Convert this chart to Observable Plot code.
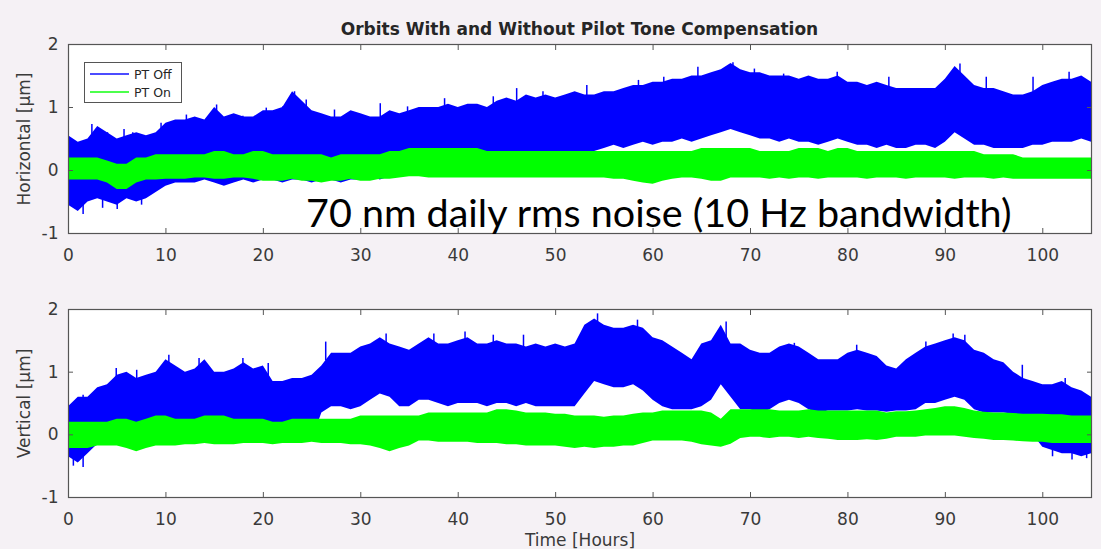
<!DOCTYPE html>
<html>
<head>
<meta charset="utf-8">
<script src="https://cdn.jsdelivr.net/npm/d3@7"></script>
<script src="https://cdn.jsdelivr.net/npm/@observablehq/plot@0.6"></script>
<style>
  html, body { margin: 0; padding: 0; background: #f5f1f5; }
  #wrap { position: relative; width: 1101px; height: 549px; overflow: hidden; font-family: "DejaVu Sans", sans-serif; }
  #title { position: absolute; left: 68px; width: 1023px; top: 19px; text-align: center; font-weight: bold; font-size: 17px; color: #262626; line-height: 20px; }
  #p1 { position: absolute; left: 0; top: 40px; }
  #p2 { position: absolute; left: 0; top: 270px; }
  #legend { position: absolute; left: 84px; top: 62px; width: 96px; height: 39px; border: 1px solid #555; background: #fff; font-size: 12.5px; color: #262626; }
  .row { position: absolute; left: 5px; height: 16px; display: flex; align-items: center; }
  .sw { width: 39px; height: 2px; margin-right: 5px; }
</style>
</head>
<body>
<div id="wrap">
  <div id="title">Orbits With and Without Pilot Tone Compensation</div>
  <div id="p1"></div>
  <div id="p2"></div>
  <div id="legend"></div>
</div>
<script>
// ---- data (hourly envelope of the noisy traces) ----
const hours = d3.range(0, 106);
const xTicks = [0, 10, 20, 30, 40, 50, 60, 70, 80, 90, 100];
const yTicks = [-1, 0, 1, 2];
const seriesNames = ["PT Off", "PT On"];
const seriesColors = ["#0000ff", "#00ff00"];
const annotation = "70 nm daily rms noise (10 Hz bandwidth)";

// Horizontal, PT Off (blue) upper / lower envelope
const hOffHi = [
  0.55,0.45,0.5,0.7,0.6,0.5,0.55,0.6,0.55,0.6,
  0.75,0.8,0.8,0.85,0.8,1.0,0.85,0.9,0.85,0.85,
  0.95,0.95,1.0,1.25,1.1,0.95,0.9,0.85,0.85,0.95,
  0.9,0.85,0.85,0.95,0.9,0.95,1.0,1.0,1.0,1.05,
  1.0,1.05,1.05,1.0,1.1,1.15,1.1,1.2,1.15,1.2,
  1.15,1.2,1.25,1.2,1.2,1.25,1.25,1.3,1.35,1.35,
  1.4,1.4,1.45,1.45,1.5,1.5,1.55,1.6,1.7,1.6,
  1.55,1.55,1.5,1.5,1.5,1.45,1.5,1.45,1.45,1.5,
  1.4,1.4,1.35,1.4,1.35,1.3,1.3,1.3,1.3,1.3,
  1.45,1.65,1.5,1.35,1.3,1.3,1.25,1.2,1.2,1.25,
  1.35,1.4,1.45,1.45,1.5,1.4];
const hOffLo = [
  -0.55,-0.65,-0.5,-0.45,-0.5,-0.55,-0.45,-0.5,-0.45,-0.35,
  -0.25,-0.2,-0.2,-0.2,-0.15,-0.2,-0.25,-0.2,-0.15,-0.2,
  -0.15,-0.15,-0.2,-0.15,-0.15,-0.2,-0.15,-0.15,-0.2,-0.15,
  -0.15,-0.1,-0.15,-0.1,-0.1,0,0,0,0,0,
  0,0,0,0,0,0,0.05,0.05,0.1,0.1,
  0.15,0.2,0.25,0.25,0.3,0.35,0.4,0.35,0.4,0.45,
  0.4,0.45,0.45,0.5,0.45,0.5,0.55,0.6,0.65,0.6,
  0.55,0.5,0.5,0.45,0.5,0.45,0.45,0.4,0.45,0.5,
  0.45,0.4,0.4,0.35,0.4,0.35,0.35,0.4,0.4,0.35,
  0.45,0.6,0.5,0.4,0.4,0.35,0.35,0.35,0.35,0.4,
  0.4,0.45,0.45,0.45,0.5,0.45];
// Horizontal, PT On (green)
const hOnHi = [
  0.2,0.2,0.2,0.2,0.15,0.1,0.1,0.2,0.2,0.25,
  0.25,0.25,0.25,0.25,0.25,0.3,0.3,0.25,0.25,0.3,
  0.3,0.25,0.25,0.25,0.25,0.25,0.25,0.2,0.25,0.25,
  0.25,0.25,0.25,0.3,0.3,0.35,0.35,0.35,0.35,0.35,
  0.35,0.35,0.35,0.3,0.3,0.3,0.3,0.3,0.3,0.3,
  0.3,0.3,0.3,0.3,0.3,0.3,0.3,0.3,0.3,0.3,
  0.3,0.3,0.3,0.3,0.3,0.35,0.35,0.35,0.35,0.35,
  0.35,0.3,0.3,0.3,0.3,0.35,0.35,0.35,0.3,0.35,
  0.35,0.3,0.3,0.3,0.3,0.3,0.3,0.3,0.3,0.3,
  0.3,0.3,0.3,0.3,0.25,0.25,0.25,0.25,0.2,0.2,
  0.2,0.2,0.2,0.2,0.2,0.2];
const hOnLo = [
  -0.15,-0.15,-0.15,-0.15,-0.2,-0.3,-0.3,-0.2,-0.15,-0.15,
  -0.14,-0.14,-0.14,-0.12,-0.12,-0.14,-0.14,-0.12,-0.12,-0.14,
  -0.17,-0.17,-0.17,-0.14,-0.17,-0.17,-0.2,-0.17,-0.17,-0.14,
  -0.17,-0.17,-0.14,-0.14,-0.12,-0.1,-0.1,-0.12,-0.12,-0.12,
  -0.12,-0.12,-0.12,-0.12,-0.12,-0.12,-0.12,-0.12,-0.12,-0.12,
  -0.12,-0.12,-0.12,-0.12,-0.12,-0.12,-0.14,-0.14,-0.17,-0.2,
  -0.22,-0.17,-0.14,-0.12,-0.12,-0.14,-0.17,-0.17,-0.12,-0.12,
  -0.12,-0.12,-0.14,-0.12,-0.14,-0.12,-0.12,-0.14,-0.12,-0.12,
  -0.12,-0.12,-0.14,-0.12,-0.12,-0.12,-0.14,-0.12,-0.12,-0.12,
  -0.12,-0.14,-0.12,-0.12,-0.12,-0.14,-0.12,-0.14,-0.14,-0.14,
  -0.14,-0.14,-0.14,-0.14,-0.14,-0.14];
// spikes sticking out of the blue band (time, extreme value)
const hSpikeT = [2.4,4.0,5.7,6.6,9.5,12.1,15.2,17.9,20.3,22,23.2,24.4,27.3,32,34.8,38.6,43.6,46,48.7,53.2,58.5,61.1,64.6,68.2,70.4,73.4,78.9,84.2,91.5,94.2,99,102.7];
const hSpikeV = [0.73,0.6,0.65,0.6,0.75,0.88,1.04,0.86,0.99,1.01,1.25,1.12,0.96,1.06,1.01,1.14,1.17,1.3,1.25,1.35,1.43,1.48,1.64,1.71,1.61,1.53,1.56,1.48,1.69,1.48,1.48,1.56];
const hDipT = [1.5,3.5,5,7.5];
const hDipV = [-0.7,-0.6,-0.62,-0.55];

// Vertical, PT Off (blue)
const vOffHi = [
  0.45,0.6,0.6,0.75,0.8,0.95,1.0,0.9,0.95,1.0,
  1.2,1.1,1.0,1.05,1.2,1.0,1.0,1.05,1.15,1.05,
  1.1,0.85,0.85,0.9,0.9,0.95,1.1,1.3,1.3,1.3,
  1.4,1.45,1.55,1.45,1.4,1.35,1.45,1.55,1.45,1.45,
  1.5,1.55,1.45,1.45,1.5,1.45,1.45,1.4,1.45,1.4,
  1.45,1.4,1.45,1.75,1.85,1.75,1.7,1.7,1.75,1.7,
  1.55,1.5,1.4,1.3,1.2,1.45,1.5,1.75,1.45,1.45,
  1.35,1.3,1.3,1.4,1.45,1.4,1.3,1.2,1.2,1.2,
  1.3,1.35,1.3,1.25,1.1,1.05,1.2,1.3,1.4,1.45,
  1.5,1.55,1.5,1.35,1.3,1.2,1.15,1.0,0.9,0.85,
  0.8,0.8,0.85,0.75,0.7,0.6];
const vOffLo = [
  -0.35,-0.45,-0.3,-0.15,-0.1,-0.1,-0.1,-0.1,-0.1,-0.1,
  -0.1,-0.1,-0.1,-0.1,-0.1,-0.1,-0.1,-0.1,-0.1,-0.1,
  -0.1,-0.1,-0.1,-0.1,-0.1,-0.1,0.35,0.45,0.45,0.4,
  0.45,0.55,0.65,0.6,0.45,0.45,0.55,0.55,0.5,0.45,
  0.5,0.5,0.5,0.45,0.5,0.5,0.45,0.5,0.45,0.45,
  0.45,0.45,0.45,0.65,0.85,0.8,0.75,0.75,0.8,0.7,
  0.55,0.45,0.4,0.4,0.4,0.45,0.55,0.8,0.6,0.4,
  0.4,0.35,0.4,0.5,0.55,0.5,0.4,0.35,0.38,0.38,
  0.38,0.4,0.38,0.38,0.36,0.38,0.38,0.4,0.5,0.5,
  0.55,0.6,0.55,0.4,0.35,0.35,0.35,0.33,0.3,0.0,
  -0.2,-0.25,-0.3,-0.3,-0.35,-0.3];
// Vertical, PT On (green)
const vOnHi = [
  0.2,0.2,0.2,0.2,0.2,0.25,0.25,0.2,0.25,0.3,
  0.3,0.25,0.25,0.25,0.3,0.3,0.3,0.25,0.25,0.25,
  0.25,0.2,0.2,0.25,0.25,0.25,0.25,0.25,0.25,0.25,
  0.3,0.3,0.3,0.3,0.3,0.3,0.3,0.35,0.35,0.35,
  0.35,0.35,0.35,0.35,0.4,0.4,0.38,0.35,0.35,0.35,
  0.33,0.33,0.3,0.3,0.3,0.28,0.3,0.3,0.33,0.35,
  0.35,0.38,0.38,0.38,0.38,0.38,0.35,0.25,0.4,0.4,
  0.4,0.4,0.4,0.38,0.38,0.38,0.4,0.38,0.38,0.38,
  0.38,0.38,0.38,0.38,0.35,0.37,0.37,0.38,0.4,0.42,
  0.45,0.45,0.42,0.38,0.36,0.35,0.35,0.34,0.33,0.33,
  0.33,0.32,0.32,0.3,0.3,0.3];
const vOnLo = [
  -0.22,-0.22,-0.22,-0.18,-0.18,-0.18,-0.22,-0.27,-0.22,-0.18,
  -0.18,-0.18,-0.16,-0.16,-0.14,-0.16,-0.16,-0.16,-0.14,-0.14,
  -0.14,-0.16,-0.14,-0.14,-0.14,-0.12,-0.14,-0.14,-0.14,-0.16,
  -0.16,-0.18,-0.22,-0.27,-0.22,-0.18,-0.1,-0.1,-0.12,-0.12,
  -0.12,-0.12,-0.14,-0.14,-0.14,-0.16,-0.16,-0.18,-0.18,-0.18,
  -0.18,-0.2,-0.22,-0.2,-0.22,-0.2,-0.2,-0.18,-0.18,-0.14,
  -0.1,-0.1,-0.1,-0.1,-0.12,-0.16,-0.18,-0.2,-0.15,-0.06,
  -0.04,-0.04,-0.06,-0.04,-0.04,-0.06,-0.04,-0.06,-0.07,-0.09,
  -0.09,-0.09,-0.08,-0.09,-0.07,-0.04,-0.04,-0.04,-0.02,-0.02,
  -0.02,-0.02,-0.04,-0.06,-0.07,-0.09,-0.09,-0.1,-0.11,-0.12,
  -0.12,-0.14,-0.14,-0.14,-0.14,-0.14];
const vSpikeT = [1.5,4.9,7,10.3,13.4,17.9,20.5,26.4,32.6,37.5,40.7,43.6,46.7,54.3,58.4,67.5,74.5,80.9,88,90.8,92,97.9,102.3];
const vSpikeV = [0.63,1.06,1.03,1.27,1.22,1.22,1.14,1.48,1.61,1.61,1.64,1.59,1.59,1.93,1.83,1.8,1.46,1.43,1.48,1.61,1.59,1.11,0.9];
const vDipT = [0.5,1.5,101,103,104.5];
const vDipV = [-0.5,-0.52,-0.35,-0.4,-0.38];

const hRows = hours.map((t, i) => ({t, offLo: hOffLo[i], offHi: hOffHi[i], onLo: hOnLo[i], onHi: hOnHi[i]}));
const vRows = hours.map((t, i) => ({t, offLo: vOffLo[i], offHi: vOffHi[i], onLo: vOnLo[i], onHi: vOnHi[i]}));
const hSpikes = hSpikeT.map((t, i) => ({t, a: hSpikeV[i] - 0.3, b: hSpikeV[i]}))
  .concat(hDipT.map((t, i) => ({t, a: hDipV[i], b: hDipV[i] + 0.3})));
const vSpikes = vSpikeT.map((t, i) => ({t, a: vSpikeV[i] - 0.3, b: vSpikeV[i]}))
  .concat(vDipT.map((t, i) => ({t, a: vDipV[i], b: vDipV[i] + 0.3})));

const frameColor = "#555";
const textColor = "#3a3a3a";

function panel(rows, spikes, yLabel, opts) {
  const marks = [
    Plot.frame({fill: "white"}),
    Plot.areaY(rows, {x: "t", y1: "offLo", y2: "offHi", fill: seriesColors[0]}),
    Plot.ruleX(spikes, {x: "t", y1: "a", y2: "b", stroke: seriesColors[0], strokeWidth: 1.5}),
    Plot.areaY(rows, {x: "t", y1: "onLo", y2: "onHi", fill: seriesColors[1]}),
    Plot.frame({stroke: frameColor, strokeWidth: 1.2}),
    Plot.axisX({anchor: "bottom", ticks: xTicks, tickSize: -5, tickPadding: 20, stroke: frameColor,
      label: opts.xLabel, labelAnchor: "center", labelOffset: 48, labelArrow: "none"}),
    Plot.axisX({anchor: "top", ticks: xTicks, tickSize: -5, tickFormat: () => "", stroke: frameColor, label: null}),
    Plot.axisY({anchor: "left", ticks: yTicks, tickSize: -5, tickPadding: 15, stroke: frameColor,
      tickFormat: d => String(d),
      label: yLabel, labelAnchor: "center", labelOffset: 51, labelArrow: "none"}),
    Plot.axisY({anchor: "right", ticks: yTicks, tickSize: -5, tickFormat: () => "", stroke: frameColor, label: null})
  ];
  if (opts.note) {
    marks.push(Plot.text([opts.note], {text: d => d, frameAnchor: "bottom-right", textAnchor: "end",
      lineAnchor: "bottom", dx: -80, dy: -7, fontSize: 39.5, fontFamily: "Lato", fill: "#000"}));
  }
  return Plot.plot({
    width: 1101,
    height: opts.height,
    marginTop: opts.marginTop,
    marginBottom: opts.marginBottom,
    marginLeft: 68,
    marginRight: 10,
    style: {background: "transparent", fontFamily: "DejaVu Sans", fontSize: "17px", color: textColor, overflow: "visible"},
    x: {domain: [0, 105]},
    y: {domain: [-1, 2]},
    marks
  });
}

document.getElementById("p1").append(panel(hRows, hSpikes, "Horizontal [μm]", {height: 230, marginTop: 4, marginBottom: 37, note: annotation, xLabel: null}));
document.getElementById("p2").append(panel(vRows, vSpikes, "Vertical [μm]", {height: 279, marginTop: 39, marginBottom: 52, xLabel: "Time [Hours]"}));

// legend
const lg = document.getElementById("legend");
seriesNames.forEach((name, i) => {
  const row = document.createElement("div");
  row.className = "row";
  row.style.top = (i === 0 ? 3 : 21) + "px";
  const sw = document.createElement("div");
  sw.className = "sw";
  sw.style.background = seriesColors[i];
  sw.style.opacity = 0.7;
  const tx = document.createElement("span");
  tx.textContent = name;
  row.append(sw, tx);
  lg.append(row);
});
</script>
</body>
</html>
